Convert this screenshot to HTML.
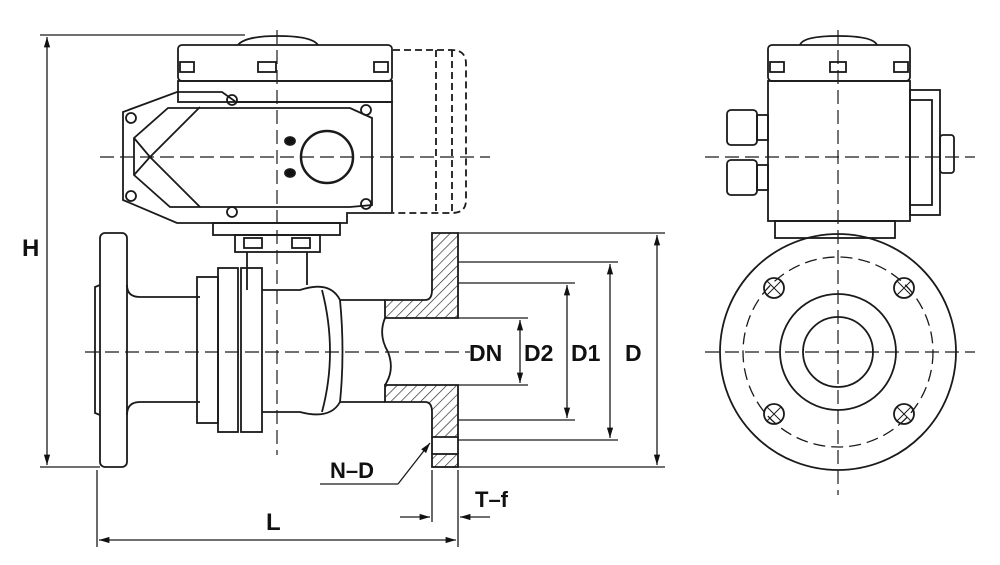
<!DOCTYPE html>
<html><head><meta charset="utf-8"><style>
html,body{margin:0;padding:0;background:#fff;}
svg{display:block;}
text{font-family:"Liberation Sans",sans-serif;font-weight:bold;fill:#111;}
</style></head><body>
<svg width="1000" height="565" viewBox="0 0 1000 565" xmlns="http://www.w3.org/2000/svg">
<defs>
<pattern id="h" width="7" height="7" patternUnits="userSpaceOnUse" patternTransform="rotate(45)">
<line x1="0" y1="0" x2="0" y2="7" stroke="#222" stroke-width="1.3"/></pattern>
<marker id="a" viewBox="0 0 10 10" refX="10" refY="5" markerWidth="8" markerHeight="8" orient="auto-start-reverse"><path d="M0,2 L10,5 L0,8 z" fill="#111"/></marker>
</defs>
<g fill="none" stroke="#1a1a1a" stroke-width="1.8">
<!-- H dimension -->
<line x1="40" y1="35" x2="245" y2="35" stroke-width="1.3"/>
<line x1="40" y1="467" x2="100" y2="467" stroke-width="1.3"/>
<line x1="47" y1="37" x2="47" y2="465" stroke-width="1.3" marker-start="url(#a)" marker-end="url(#a)"/>
<!-- actuator left -->
<path d="M238,45 Q245,36 278,36 Q312,36 318,45"/>
<rect x="178" y="45" width="214" height="36" rx="4"/>
<rect x="180" y="62" width="14" height="10"/><rect x="258" y="62" width="18" height="10"/><rect x="374" y="62" width="14" height="10"/>
<rect x="178" y="81" width="214" height="21"/>
<path d="M123,112 L177,92 L222,92 L236,102 L392,102 L392,213 L347,213 L347,223 L177,223 L123,200 Z"/>
<path d="M134,138 L168,108 L350,108 L372,118 L372,205 L350,207 L170,207 L134,175 Z"/>
<path d="M134,138 L150,157 L134,175 M150,157 L200,107 M150,157 L200,207"/>
<circle cx="131" cy="118" r="5"/><circle cx="131" cy="196" r="5"/><circle cx="232" cy="100" r="5"/><circle cx="232" cy="212" r="5"/><circle cx="366" cy="110" r="5"/><circle cx="366" cy="204" r="5"/>
<circle cx="327" cy="157" r="26" stroke-width="2.5"/>
<ellipse cx="290" cy="141" rx="5" ry="4" fill="#111"/><ellipse cx="290" cy="173" rx="5" ry="4" fill="#111"/>
<path d="M393,50 L452,50 Q466,50 466,64 L466,200 Q466,213 452,213 L393,213 M436,50 L436,213 M452,50 L452,213" stroke-dasharray="7,4"/>
<rect x="213" y="223" width="127" height="12"/>
<rect x="235" y="235" width="85" height="17"/>
<rect x="244" y="238" width="18" height="10"/><rect x="292" y="238" width="18" height="10"/>
<line x1="247" y1="252" x2="247" y2="290"/><line x1="307" y1="252" x2="307" y2="285"/>
<!-- valve -->
<rect x="100" y="233" width="27" height="234" rx="5"/>
<path d="M100,285 L95,287 L95,413 L100,415"/>
<path d="M127,285 Q127,297 140,297 L200,297 M127,415 Q127,402 140,402 L200,402"/>
<rect x="197" y="277" width="21" height="146"/>
<rect x="218" y="268" width="20" height="164"/>
<rect x="241" y="268" width="21" height="164"/>
<path d="M262,290 L300,290 Q330,280 340,300 Q345,352 340,402 Q330,420 300,412 L262,412"/>
<path d="M322,290 Q338,352 322,412"/>
<path d="M340,300 L385,300 M340,402 L385,402"/>
<!-- hatched section walls -->
<path d="M385,300 L425,300 Q432,300 432,290 L432,233 L458,233 L458,318 L385,318 Z" fill="url(#h)"/>
<path d="M385,402 L425,402 Q432,402 432,412 L432,437 L458,437 L458,385 L385,385 Z" fill="url(#h)"/>
<rect x="432" y="454" width="26" height="13" fill="url(#h)"/>
<path d="M432,437 L432,454 M458,437 L458,454"/>
<path d="M385,318 Q378,335 388,352 Q395,370 385,385"/>
<!-- centerlines -->
<g stroke-width="1.2" stroke-dasharray="14,6">
<line x1="100" y1="157" x2="490" y2="157"/><line x1="277" y1="30" x2="277" y2="455"/>
<line x1="85" y1="352" x2="470" y2="352"/>
<line x1="838" y1="30" x2="838" y2="495"/><line x1="705" y1="352" x2="975" y2="352"/><line x1="705" y1="157" x2="975" y2="157"/>
</g>
<!-- dims right -->
<g stroke-width="1.3">
<line x1="458" y1="233" x2="665" y2="233"/><line x1="458" y1="467" x2="665" y2="467"/>
<line x1="458" y1="262" x2="618" y2="262"/><line x1="458" y1="440" x2="618" y2="440"/>
<line x1="458" y1="283" x2="575" y2="283"/><line x1="458" y1="420" x2="575" y2="420"/>
<line x1="458" y1="318" x2="528" y2="318"/><line x1="458" y1="385" x2="528" y2="385"/>
<line x1="657" y1="235" x2="657" y2="465" marker-start="url(#a)" marker-end="url(#a)"/>
<line x1="610" y1="264" x2="610" y2="438" marker-start="url(#a)" marker-end="url(#a)"/>
<line x1="567" y1="285" x2="567" y2="418" marker-start="url(#a)" marker-end="url(#a)"/>
<line x1="520" y1="320" x2="520" y2="383" marker-start="url(#a)" marker-end="url(#a)"/>
<line x1="97" y1="470" x2="97" y2="547"/><line x1="458" y1="470" x2="458" y2="547"/><line x1="432" y1="470" x2="432" y2="522"/>
<line x1="99" y1="540" x2="456" y2="540" marker-start="url(#a)" marker-end="url(#a)"/>
<line x1="400" y1="517" x2="430" y2="517" marker-end="url(#a)"/><line x1="490" y1="517" x2="460" y2="517" marker-end="url(#a)"/>
<line x1="320" y1="484" x2="398" y2="484"/><line x1="398" y1="484" x2="430" y2="443" marker-end="url(#a)"/>
</g>
<!-- right view -->
<path d="M800,45 Q803,36 838,36 Q873,36 877,45"/>
<rect x="768" y="45" width="142" height="36" rx="4"/>
<rect x="770" y="62" width="14" height="10"/><rect x="830" y="62" width="16" height="10"/><rect x="894" y="62" width="14" height="10"/>
<rect x="768" y="81" width="142" height="140"/>
<rect x="910" y="90" width="30" height="125"/><rect x="910" y="100" width="22" height="105"/>
<rect x="940" y="135" width="14" height="38" rx="3"/>
<rect x="727" y="110" width="30" height="35" rx="4"/><rect x="757" y="115" width="11" height="25"/>
<rect x="727" y="160" width="30" height="35" rx="4"/><rect x="757" y="165" width="11" height="25"/>
<rect x="775" y="221" width="120" height="17"/>
<circle cx="838" cy="352" r="118"/>
<circle cx="838" cy="352" r="95" stroke-width="1.3" stroke-dasharray="12,6"/>
<circle cx="838" cy="352" r="58"/>
<circle cx="838" cy="352" r="35"/>
<g>
<circle cx="774" cy="288" r="10"/><circle cx="904" cy="288" r="10"/><circle cx="774" cy="414" r="10"/><circle cx="904" cy="414" r="10"/>
<path d="M767,281 l14,14 M781,281 l-14,14 M897,281 l14,14 M911,281 l-14,14 M767,407 l14,14 M781,407 l-14,14 M897,407 l14,14 M911,407 l-14,14" stroke-width="1"/>
</g>
</g>
<text x="22" y="256" font-size="24">H</text>
<text x="469" y="361" font-size="23">DN</text>
<text x="524" y="361" font-size="23">D2</text>
<text x="571" y="361" font-size="23">D1</text>
<text x="625" y="361" font-size="23">D</text>
<text x="330" y="478" font-size="22">N–D</text>
<text x="475" y="507" font-size="22">T–f</text>
<text x="266" y="530" font-size="24">L</text>
</svg>
</body></html>
